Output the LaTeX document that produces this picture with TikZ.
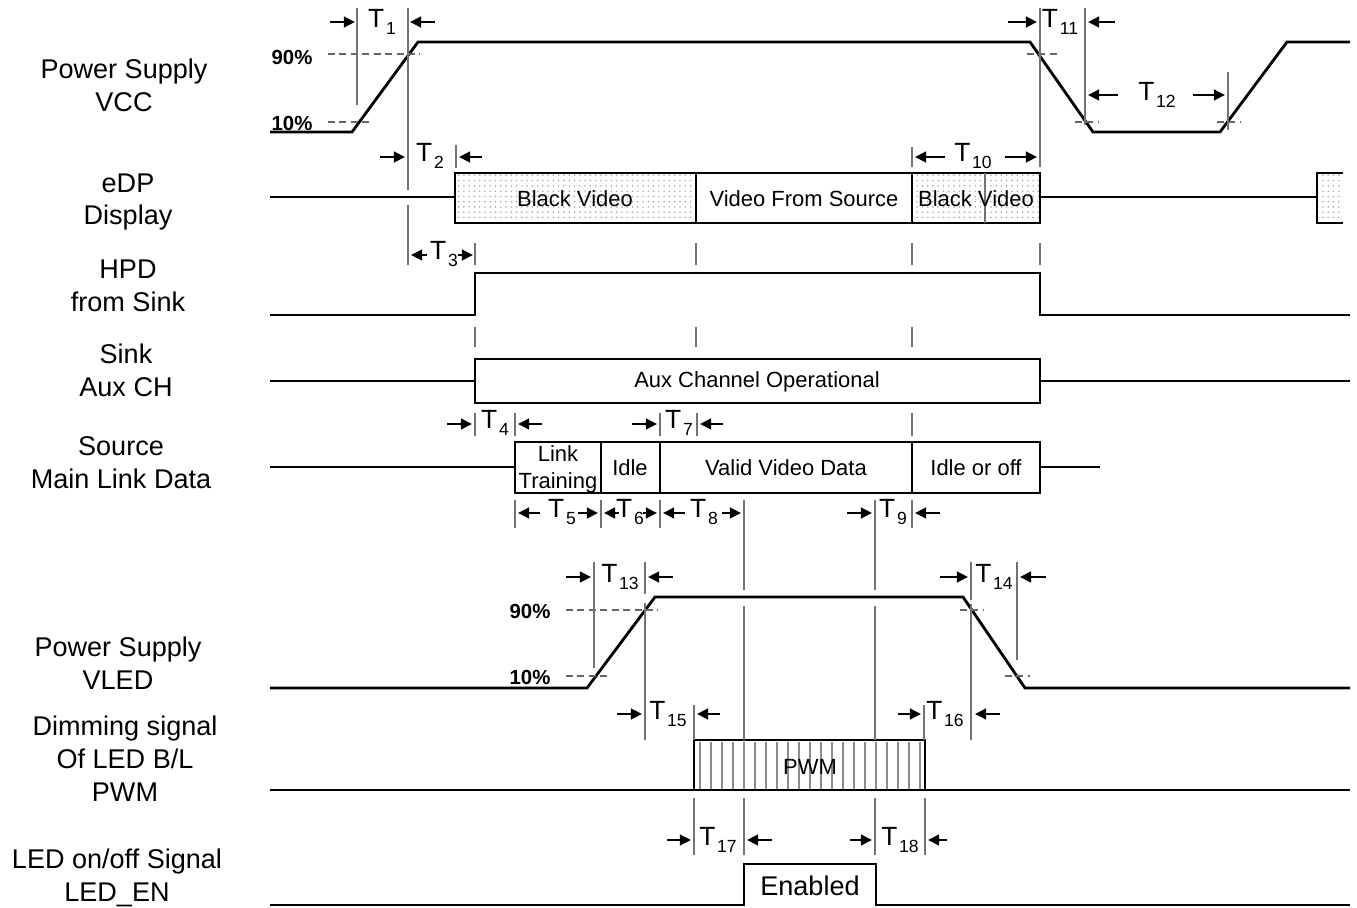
\documentclass[tikz,border=0pt]{standalone}
\usepackage{fontspec}
\setmainfont{Liberation Sans}
\usetikzlibrary{arrows.meta,patterns}

\tikzset{
  sig/.style={line width=1.6pt},
  sigbox/.style={draw, line width=1.6pt},
  guide/.style={black!55, line width=0.6pt},
  level/.style={black!60, line width=0.6pt, dash pattern=on 4pt off 2.5pt},
  tarrow/.style={-{Triangle[length=6.3pt,width=6pt]}, line width=1.5pt},
  blackvid/.style={pattern=dots, pattern color=black!35},
  signame/.style={align=center, font=\fontsize{15.4}{18.7}\selectfont},
  boxtext/.style={align=center, font=\fontsize{12.5}{15.2}\selectfont},
  tlabel/.style={anchor=base, inner sep=0pt, font=\fontsize{15}{16}\selectfont},
  pct/.style={font=\bfseries\fontsize{11.6}{13}\selectfont}
}

\begin{document}
\begin{tikzpicture}[x=0.02cm, y=-0.02cm]
 \useasboundingbox (0,0) rectangle (1357,908);

% Signal names
 \node[signame] (vcc) at (124,85) {Power Supply\\VCC};
 \node[signame] (edp) at (128,202) {eDP\\Display};
 \node[signame] (hpd) at (128,286) {HPD\\from Sink};
 \node[signame] (aux) at (126,370) {Sink\\Aux CH};
 \node[signame] (src) at (121,463) {Source\\Main Link Data};
 \node[signame] (vled) at (118,663) {Power Supply\\VLED};
 \node[signame] (pwm) at (125,759) {Dimming signal\\Of LED B/L\\PWM};
 \node[signame] (ledon) at (117,878) {LED on/off Signal\\LED\_EN};

% Power Supply VCC
 \node[pct] (vcc90) at (292,57) {90\%};
 \node[pct] (vcc10) at (292,123) {10\%};
 \draw[sig] (270,132) -- (352,132) -- (418,42) -- (1030,42) -- (1093,132) -- (1220,132) -- (1287,42) -- (1350,42);
 \draw[level] (328,54) -- (420,54); % 90 % level
 \draw[level] (328,122) -- (370,122); % 10 % level
 \draw[level] (1027,54) -- (1057,54);
 \draw[level] (1075,122) -- (1098,122);
 \draw[level] (1217,122) -- (1241,122);

% eDP Display
 \draw[sig] (270,197) -- (455,197);
 \draw[sigbox, blackvid] (455,173) rectangle (696,223);
 \draw[sigbox] (696,173) rectangle (912,223);
 \draw[sigbox, blackvid] (912,173) rectangle (1040,223);
 \draw[guide] (985,173) -- (985,223);
 \node[boxtext] (black1) at (575,199) {Black Video};
 \node[boxtext] (video) at (804,199) {Video From Source};
 \node[boxtext] (black2) at (976,199) {Black Video};
 \draw[sig] (1040,197) -- (1317,197);
 \fill[blackvid] (1317,173) rectangle (1343,223);
 \draw[sig] (1343,173) -- (1317,173) -- (1317,223) -- (1343,223); % next frame

% HPD from Sink
 \draw[sig] (270,315) -- (475,315) -- (475,273) -- (1040,273) -- (1040,315) -- (1350,315);

% Sink Aux CH
 \draw[sig] (270,381) -- (475,381);
 \draw[sigbox] (475,359) rectangle (1040,403);
 \node[boxtext] (auxop) at (757,382) {Aux Channel Operational};
 \draw[sig] (1040,381) -- (1350,381);

% Source Main Link Data
 \draw[sig] (270,467) -- (515,467);
 \draw[sigbox] (515,442) rectangle (601,493);
 \draw[sigbox] (601,442) rectangle (660,493);
 \draw[sigbox] (660,442) rectangle (912,493);
 \draw[sigbox] (912,442) rectangle (1040,493);
 \node[boxtext] (train) at (558,469) {Link\\Training};
 \node[boxtext] (idle) at (630,468) {Idle};
 \node[boxtext] (valid) at (786,468) {Valid Video Data};
 \node[boxtext] (idleoff) at (976,468) {Idle or off};
 \draw[sig] (1040,467) -- (1100,467);

% Power Supply VLED
 \node[pct] (vled90) at (530,611) {90\%};
 \node[pct] (vled10) at (530,677) {10\%};
 \draw[sig] (270,688) -- (587,688) -- (655,597) -- (963,597) -- (1025,688) -- (1350,688);
 \draw[level] (566,610) -- (658,610);
 \draw[level] (566,676) -- (607,676);
 \draw[level] (960,610) -- (984,610);
 \draw[level] (1005,676) -- (1030,676);

% Dimming signal PWM
 \foreach \x in {700,711,...,920}
   \draw[black!45, line width=0.8pt] (\x,742) -- (\x,789);
 \draw[sig] (270,790) -- (1350,790);
 \draw[sig] (694,790) -- (694,740) -- (925,740) -- (925,790);
 \node[boxtext] (pwmtxt) at (810,767) {PWM};

% LED on/off Signal
 \draw[sig] (270,905) -- (744,905) -- (744,864) -- (876,864) -- (876,905) -- (1350,905);
 \node[signame] (enabled) at (810,886) {Enabled};

% Guide lines
 \draw[guide] (357,8) -- (357,105);
 \draw[guide] (408,8) -- (408,190);
 \draw[guide] (408,205) -- (408,265);
 \draw[guide] (456,145) -- (456,168);
 \draw[guide] (912,147) -- (912,167);
 \draw[guide] (1040,8) -- (1040,167);
 \draw[guide] (1085,8) -- (1085,125);
 \draw[guide] (1228,72) -- (1228,130);
 \draw[guide] (475,243) -- (475,265);
 \foreach \x in {696,912,1040}
   \draw[guide] (\x,243) -- (\x,265);
 \foreach \x in {475,696,912}
   \draw[guide] (\x,327) -- (\x,347);
 \foreach \x in {475,515,660,697,912}
   \draw[guide] (\x,413) -- (\x,436);
 \foreach \x in {515,601,660,912}
   \draw[guide] (\x,500) -- (\x,528);
 \foreach \x in {744,875} {
   \draw[guide] (\x,500) -- (\x,590);
   \draw[guide] (\x,606) -- (\x,740);
 }
 \draw[guide] (594,562) -- (594,668);
 \draw[guide] (645,562) -- (645,594);
 \draw[guide] (645,603) -- (645,740);
 \draw[guide] (971,562) -- (971,600);
 \draw[guide] (971,604) -- (971,740);
 \draw[guide] (1017,562) -- (1017,660);
 \draw[guide] (694,705) -- (694,740);
 \draw[guide] (924,705) -- (924,740);
 \foreach \x in {694,744,875,925}
   \draw[guide] (\x,798) -- (\x,855);

% Timing arrows
 \foreach \a/\b/\y in {330/355/22, 435/410/22, 380/405/157, 482/459/157, 427/411/255, 458/473/255,
   945/915/157, 1005/1037/157, 1008/1037/22, 1115/1088/22, 1118/1088/95, 1193/1225/95,
   447/472/424, 542/518/424, 632/657/424, 723/700/424,
   540/518/513, 578/598/513, 619/604/513, 643/657/513, 685/663/513, 722/741/513, 847/872/513, 940/915/513,
   566/591/577, 673/648/577, 940/968/577, 1046/1020/577,
   617/642/714, 720/697/714, 898/921/714, 1000/975/714,
   667/691/840, 772/747/840, 850/872/840, 947/928/840}
   \draw[tarrow] (\a,\y) -- (\b,\y);

% Timing names
 \foreach \n/\x/\y in {1/382/28, 2/430/162, 3/444/260, 4/495/429, 5/562/518, 6/630/518, 7/679/429,
   8/704/518, 9/893/518, 10/973/162, 11/1060/28, 12/1157/101, 13/620/583, 14/994/583,
   15/668/720, 16/945/720, 17/718/846, 18/900/846}
   \node[tlabel] (t\n) at (\x,\y) {T\kern1pt\raisebox{-3.5pt}{\fontsize{10}{11}\selectfont\n}};

\end{tikzpicture}
\end{document}
